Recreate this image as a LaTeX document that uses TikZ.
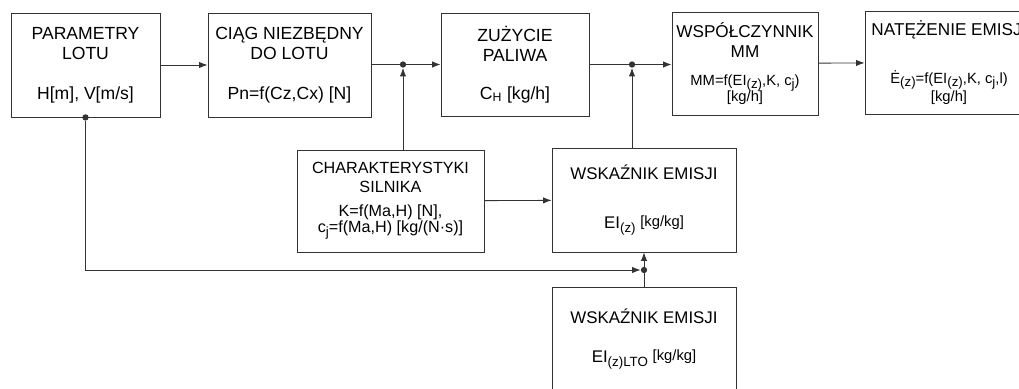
\documentclass[tikz,border=0pt]{standalone}
\usepackage{fontspec}
\setmainfont{Liberation Sans}
\usetikzlibrary{positioning,arrows.meta}

\newcommand{\lowidx}[1]{\raisebox{-0.45ex}{\fontsize{9.5}{10}\selectfont #1}}
\newcommand{\smallunit}[1]{{\fontsize{10.5}{12}\selectfont #1}}

\tikzset{
  block/.style={rectangle, draw=black!80, line width=0.6pt, align=center, inner sep=0pt,
    minimum height=2.6cm, font=\fontsize{12.5}{14.2}\selectfont},
  conn/.style={draw=black!80, line width=0.6pt},
  dot/.style={circle, fill=black!80, inner sep=0pt, minimum size=4.5pt},
  >={Latex[length=6pt,width=4.5pt]}
}

\begin{document}
\begin{tikzpicture}[x=0.025cm, y=-0.025cm]
  \useasboundingbox[fill=white] (0,0) rectangle (1019,388);

  % top row
  \node[block, minimum width=3.725cm] (par) at (85.5,65)
    {PARAMETRY\\LOTU\\[0.5cm]H[m], V[m/s]};
  \node[block, minimum width=4.075cm] (ciag) at (289.5,65)
    {CIĄG NIEZBĘDNY\\DO LOTU\\[0.5cm]Pn=f(Cz,Cx) [N]};
  \node[block, minimum width=3.7cm, minimum height=2.575cm] (zuz) at (515,64.5)
    {ZUŻYCIE\\PALIWA\\[0.45cm]C\textsubscript{H} [kg/h]};
  \node[block, minimum width=3.65cm, minimum height=2.575cm, font=\fontsize{12.2}{14.2}\selectfont] (wsp) at (745,63.5)
    {WSPÓŁCZYNNIK\\MM\\[0.2cm]\smallunit{MM=f(EI\lowidx{(z)},K, c\lowidx{j})}\\[-0.1cm]\smallunit{[kg/h]}};
  \node[block, minimum width=4.2cm, minimum height=2.575cm, font=\fontsize{12.2}{14.2}\selectfont] (nat) at (949,62.5)
    {NATĘŻENIE EMISJI\\[0.7cm]\smallunit{Ė\lowidx{(z)}=f(EI\lowidx{(z)},K, c\lowidx{j},l)}\\[-0.05cm]\smallunit{[kg/h]}};

  % lower boxes
  \node[block, minimum width=4.675cm, minimum height=2.55cm, font=\fontsize{11.5}{13}\selectfont] (char) at (390.5,201)
    {CHARAKTERYSTYKI\\SILNIKA\\[0.15cm]K=f(Ma,H) [N],\\[-0.05cm]c\lowidx{j}=f(Ma,H) [kg/(N·s)]};
  \node[block, minimum width=4.6cm, font=\fontsize{12}{14}\selectfont] (wsk) at (644,200)
    {WSKAŹNIK EMISJI\\[0.75cm]EI\lowidx{(z)} \raisebox{0.3ex}{\smallunit{[kg/kg]}}};
  \node[block, minimum width=4.6cm, font=\fontsize{12}{14}\selectfont] (lto) at (644,339)
    {WSKAŹNIK EMISJI\\[0.5cm]EI\lowidx{(z)LTO} \raisebox{0.3ex}{\smallunit{[kg/kg]}}};

  % junctions
  \node[dot] (j0) at (par.south) {};
  \node[dot] (j1) at (403,64.5) {};
  \node[dot] (j2) at (632,64.5) {};
  \node[dot] (j3) at (644,270) {};

  % Arrows
  \draw[conn,->] (par) -- (ciag);
  \draw[conn,->] (ciag.east |- j1) -- (zuz.west |- j1);
  \draw[conn,->] (j1 |- char.north) -- (j1);
  \draw[conn,->] (zuz.east |- j2) -- (wsp.west |- j2);
  \draw[conn,->] (j2 |- wsk.north) -- (j2);
  \draw[conn,->] (wsp) -- (nat);
  \draw[conn,->] (char) -- (wsk);
  \draw[conn,->] (j0) -- (j0 |- j3) -- (j3);
  \draw[conn] (lto) -- (j3);
  \draw[conn,->] (j3) -- (wsk);
\end{tikzpicture}
\end{document}
